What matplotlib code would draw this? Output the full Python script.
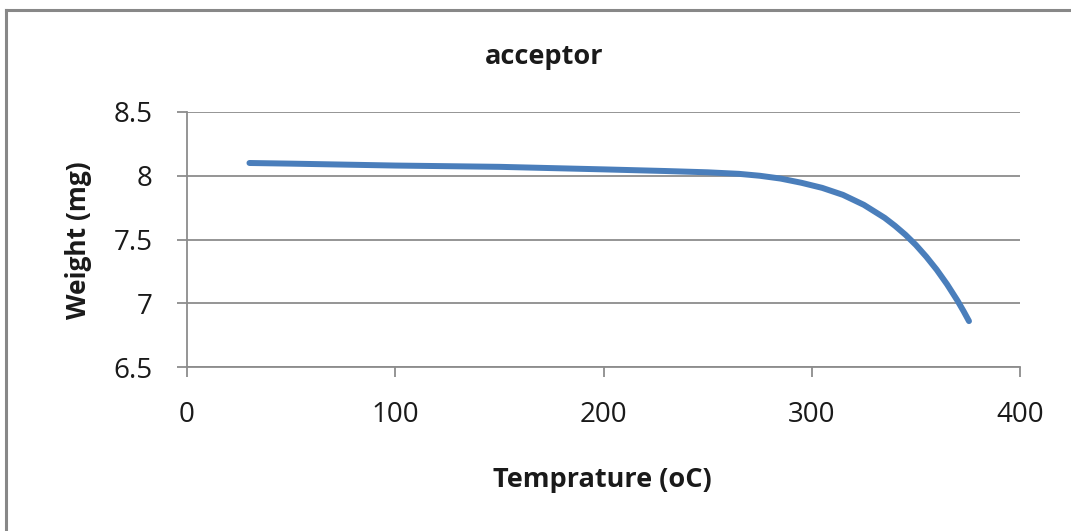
import matplotlib
matplotlib.use("Agg")
import matplotlib.pyplot as plt
from matplotlib.lines import Line2D

temperature = [30, 50, 100, 150, 200, 230, 250, 265, 275, 285, 295, 305, 315, 325,
               335, 340, 345, 350, 355, 360, 365, 370, 373, 375.5]
weight = [8.10, 8.095, 8.08, 8.07, 8.05, 8.037, 8.027, 8.015, 8.0, 7.978, 7.945, 7.905,
          7.85, 7.772, 7.67, 7.607, 7.537, 7.457, 7.365, 7.263, 7.148, 7.02, 6.935, 6.86]
x_ticks = [0, 100, 200, 300, 400]
y_ticks = [6.5, 7, 7.5, 8, 8.5]
y_tick_labels = ["6.5", "7", "7.5", "8", "8.5"]

W, H = 1071, 531
fig = plt.figure(figsize=(W / 100, H / 100), dpi=100)
ax = fig.add_axes([187 / W, 1 - 367 / H, (1020 - 187) / W, (367 - 112) / H])

grey = "#8c8c8c"
ax.plot(temperature, weight, color="#4A7EBB", linewidth=4.3, solid_capstyle="round",
        solid_joinstyle="round", zorder=3)

ax.set_xlim(0, 400)
ax.set_ylim(6.5, 8.5)
ax.set_xticks(x_ticks)
ax.set_yticks(y_ticks)
ax.set_yticklabels(y_tick_labels)
ax.grid(axis="y", color=grey, linewidth=1.3)
ax.grid(axis="x", visible=False)
for s in ["top", "right"]:
    ax.spines[s].set_visible(False)
for s in ["left", "bottom"]:
    ax.spines[s].set_color(grey)
    ax.spines[s].set_linewidth(1.3)
ax.tick_params(axis="both", direction="out", length=7.5, width=1.3, color=grey,
               labelsize=20, labelcolor="#1a1a1a")
ax.tick_params(axis="y", pad=17)
ax.tick_params(axis="x", pad=17)
for lbl in ax.get_xticklabels() + ax.get_yticklabels():
    lbl.set_fontfamily("Open Sans")

fig.text(544 / W, 1 - 57 / H, "acceptor", ha="center", va="center",
         fontsize=19.5, fontweight="bold", family="Open Sans", color="#1a1a1a")
fig.text(602 / W, 1 - 480 / H, "Temprature (oC)", ha="center", va="center",
         fontsize=19.5, fontweight="bold", family="Open Sans", color="#1a1a1a")
fig.text(78 / W, 1 - 240 / H, "Weight (mg)", ha="center", va="center", rotation=90,
         fontsize=19, fontweight="bold", family="Open Sans", color="#1a1a1a")

# outer chart border (top and left visible)
fig.add_artist(Line2D([6 / W, 1], [1 - 10 / H, 1 - 10 / H], transform=fig.transFigure,
                      color="#888888", linewidth=2.2))
fig.add_artist(Line2D([6 / W, 6 / W], [0, 1 - 10 / H], transform=fig.transFigure,
                      color="#888888", linewidth=2.2))

fig.savefig("out.png", dpi=100)
